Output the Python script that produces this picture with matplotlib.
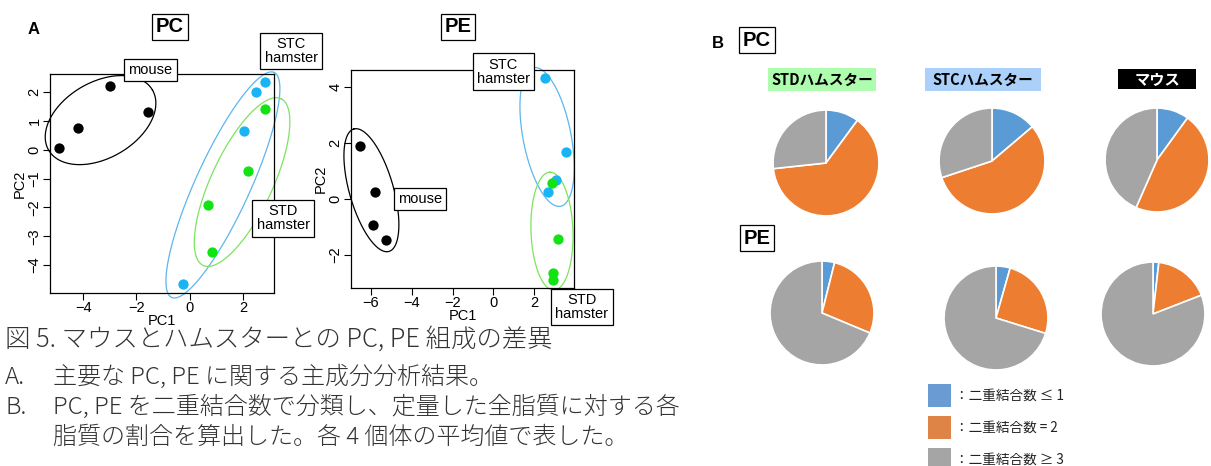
import numpy as np
import matplotlib
matplotlib.use("Agg")
import matplotlib.pyplot as plt
from matplotlib.patches import Rectangle

# ---------------- data ----------------
# PCA scores (panel A)
pc_mouse_x = [-4.9, -4.2, -3.0, -1.55]
pc_mouse_y = [0.05, 0.75, 2.2, 1.3]
pc_stc_x = [-0.25, 2.05, 2.5, 2.85]
pc_stc_y = [-4.65, 0.65, 2.0, 2.35]
pc_std_x = [0.7, 0.85, 2.2, 2.85]
pc_std_y = [-1.9, -3.55, -0.75, 1.4]

pe_mouse_x = [-6.55, -5.82, -5.9, -5.25]
pe_mouse_y = [1.9, 0.26, -0.93, -1.46]
pe_stc_x = [2.55, 3.54, 3.06, 2.68]
pe_stc_y = [4.33, 1.67, 0.68, 0.25]
pe_std_x = [2.86, 3.15, 2.94, 2.9]
pe_std_y = [0.58, -1.43, -2.63, -2.89]

pc_xticks = [-4, -2, 0, 2]
pc_yticks = [-4, -3, -2, -1, 0, 1, 2]
pe_xticks = [-6, -4, -2, 0, 2]
pe_yticks = [-2, 0, 2, 4]

# composition (panel B), % of total, order: STD hamster, STC hamster, mouse
pie_groups = ["STDハムスター", "STCハムスター", "マウス"]
pc_db_le1 = [10.1, 13.8, 10.0]
pc_db_eq2 = [63.2, 56.1, 46.6]
pc_db_ge3 = [26.7, 30.1, 43.4]
pe_db_le1 = [3.9, 4.4, 1.8]
pe_db_eq2 = [27.4, 25.4, 17.3]
pe_db_ge3 = [68.7, 70.2, 80.9]
legend_labels = ["：二重結合数 ≤ 1", "：二重結合数 = 2", "：二重結合数 ≥ 3"]

caption = ["図 5. マウスとハムスターとの PC, PE 組成の差異",
           ("A.", "主要な PC, PE に関する主成分分析結果。"),
           ("B.", "PC, PE を二重結合数で分類し、定量した全脂質に対する各"),
           ("", "脂質の割合を算出した。各 4 個体の平均値で表した。")]

# ---------------- styles ----------------
W, H = 1211, 466
fig = plt.figure(figsize=(W / 100, H / 100), dpi=100)
LAT = ["Liberation Sans", "DejaVu Sans"]
CJK = ["Noto Sans CJK JP", "DejaVu Sans"]
c_blue_pt, c_green_pt = "#18B4F5", "#12E312"
c_blue_el, c_green_el = "#5DB6EE", "#7DE35E"
pie_cols = ["#5B9BD5", "#ED7D31", "#A5A5A5"]
leg_cols = ["#6A9BD3", "#DE8446", "#A5A5A5"]


def fx(px):
    return px / W


def fy(py):
    return 1 - py / H


def make_scatter(rect_px, xlim, ylim, xt, yt):
    l, t, r, b = rect_px
    ax = fig.add_axes([fx(l), fy(b), (r - l) / W, (b - t) / H])
    ax.set_xlim(*xlim)
    ax.set_ylim(*ylim)
    ax.set_xticks(xt)
    ax.set_yticks(yt)
    ax.set_xticklabels(["\u2212%d" % -v if v < 0 else "%d" % v for v in xt],
                       family=LAT, fontsize=10.5)
    ax.set_yticklabels(["\u2212%d" % -v if v < 0 else "%d" % v for v in yt],
                       family=LAT, fontsize=10.5, rotation=90, va="center")
    ax.tick_params(direction="out", length=5, width=0.8, pad=1)
    for s in ax.spines.values():
        s.set_linewidth(0.9)
    ax.set_xlabel("PC1", family=LAT, fontsize=10.5, labelpad=-1)
    ax.set_ylabel("PC2", family=LAT, fontsize=10.5, labelpad=1)
    return ax


def ellipse(ax, cx, cy, a, b, theta, color):
    # a, b semi-axes in pixels, theta in degrees (screen orientation)
    c = ax.transData.transform((cx, cy))
    t = np.linspace(0, 2 * np.pi, 300)
    th = np.deg2rad(theta)
    px = c[0] + a * np.cos(t) * np.cos(th) - b * np.sin(t) * np.sin(th)
    py = c[1] + a * np.cos(t) * np.sin(th) + b * np.sin(t) * np.cos(th)
    d = ax.transData.inverted().transform(np.column_stack([px, py]))
    ax.plot(d[:, 0], d[:, 1], color=color, lw=0.9, clip_on=False, zorder=2)


def label_box(ax, x, y, txt):
    ax.text(x, y, txt, family=LAT, fontsize=10.5, ha="center", va="center",
            linespacing=1.0, clip_on=False, zorder=5,
            bbox=dict(boxstyle="square,pad=0.3", fc="white", ec="black", lw=0.9))


def title_box(x, y, txt):
    fig.text(fx(x), fy(y), txt, family=LAT, fontsize=14.5, weight="bold",
             ha="center", va="center",
             bbox=dict(boxstyle="square,pad=0.18", fc="white", ec="black", lw=0.9))


# ---------------- panel A: PC ----------------
ax1 = make_scatter((50, 74, 274, 293), (-5.25, 3.17), (-4.97, 2.63),
                   pc_xticks, pc_yticks)
ms = 55
ax1.scatter(pc_mouse_x, pc_mouse_y, s=ms, c="black", lw=0, zorder=3)
ax1.scatter(pc_stc_x, pc_stc_y, s=ms, c=c_blue_pt, lw=0, zorder=3)
ax1.scatter(pc_std_x, pc_std_y, s=ms, c=c_green_pt, lw=0, zorder=3)
ellipse(ax1, -3.35, 1.03, 60, 38, 30, "black")
ellipse(ax1, 1.25, -1.22, 123.6, 27.4, 65.5, c_blue_el)
ellipse(ax1, 1.97, -1.12, 92, 30.7, 65, c_green_el)
label_box(ax1, -1.47, 2.77, "mouse")
label_box(ax1, 3.81, 3.43, "STC\nhamster")
label_box(ax1, 3.51, -2.38, "STD\nhamster")

# ---------------- panel A: PE ----------------
ax2 = make_scatter((351, 70, 574, 288), (-6.98, 3.95), (-3.18, 4.6),
                   pe_xticks, pe_yticks)
ax2.scatter(pe_mouse_x, pe_mouse_y, s=ms, c="black", lw=0, zorder=3)
ax2.scatter(pe_stc_x, pe_stc_y, s=ms, c=c_blue_pt, lw=0, zorder=3)
ax2.scatter(pe_std_x, pe_std_y, s=ms, c=c_green_pt, lw=0, zorder=4)
ellipse(ax2, -5.98, 0.31, 63.7, 22, 106, "black")
ellipse(ax2, 2.63, 2.21, 70.6, 24, 101, c_blue_el)
ellipse(ax2, 2.87, -1.15, 59, 21, 92, c_green_el)
label_box(ax2, 0.49, 4.54, "STC\nhamster")
label_box(ax2, -3.6, 0.0, "mouse")
label_box(ax2, 4.34, -3.86, "STD\nhamster")

fig.text(fx(34), fy(30), "A", family=LAT, fontsize=12, weight="bold",
         ha="center", va="center")
title_box(170, 27, "PC")
title_box(458, 27, "PE")

# ---------------- panel B: pies ----------------
fig.text(fx(718), fy(43), "B", family=LAT, fontsize=12, weight="bold",
         ha="center", va="center")
title_box(757, 40, "PC")
title_box(757, 238, "PE")

hdr = [(768, 68, 876, 91, "#AEFCAE", "black", 10.5),
       (925, 68, 1041, 91, "#ABD0FA", "black", 10.5),
       (1118, 69, 1196, 89, "black", "white", 11)]
for (l, t, r, b, fc, tc, fs), name in zip(hdr, pie_groups):
    fig.patches.append(Rectangle((fx(l), fy(b)), (r - l) / W, (b - t) / H,
                                 transform=fig.transFigure, fc=fc, ec="none"))
    fig.text(fx((l + r) / 2), fy((t + b) / 2 + 0.5), name, family=CJK,
             fontsize=fs, weight="bold", color=tc, ha="center", va="center")


def pie_at(cx, cy, r, vals):
    ax = fig.add_axes([fx(cx - r), fy(cy + r), 2 * r / W, 2 * r / H])
    ax.pie(vals, colors=pie_cols, startangle=90, counterclock=False, radius=1,
           wedgeprops=dict(edgecolor="white", linewidth=1.2))
    ax.set_xlim(-1.02, 1.02)
    ax.set_ylim(-1.02, 1.02)
    ax.set_aspect("equal")
    ax.axis("off")


pc_pos = [(826, 163, 54), (992, 161, 54), (1157, 160, 53)]
pe_pos = [(822, 313, 53), (996, 318, 53), (1153, 314, 53)]
for i, (cx, cy, r) in enumerate(pc_pos):
    pie_at(cx, cy, r, [pc_db_le1[i], pc_db_eq2[i], pc_db_ge3[i]])
for i, (cx, cy, r) in enumerate(pe_pos):
    pie_at(cx, cy, r, [pe_db_le1[i], pe_db_eq2[i], pe_db_ge3[i]])

# legend
for i, (lab, col) in enumerate(zip(legend_labels, leg_cols)):
    top = 384 + 32 * i
    fig.patches.append(Rectangle((fx(928), fy(top + 23)), 23 / W, 23 / H,
                                 transform=fig.transFigure, fc=col, ec="none"))
    fig.text(fx(955), fy(top + 12), lab, family=CJK, fontsize=9.8,
             color="#222222", ha="left", va="center")

# ---------------- caption ----------------
cap_kw = dict(family=CJK, color="#333333", weight="light",
              va="center", ha="left")
fig.text(fx(5), fy(339), caption[0], fontsize=18.3, **cap_kw)
for (lead, body), yc in zip(caption[1:], [377, 407, 437]):
    if lead:
        fig.text(fx(5), fy(yc), lead, fontsize=17.3, **cap_kw)
    fig.text(fx(53), fy(yc), body, fontsize=17.3, **cap_kw)

fig.savefig("out.png", dpi=100)
